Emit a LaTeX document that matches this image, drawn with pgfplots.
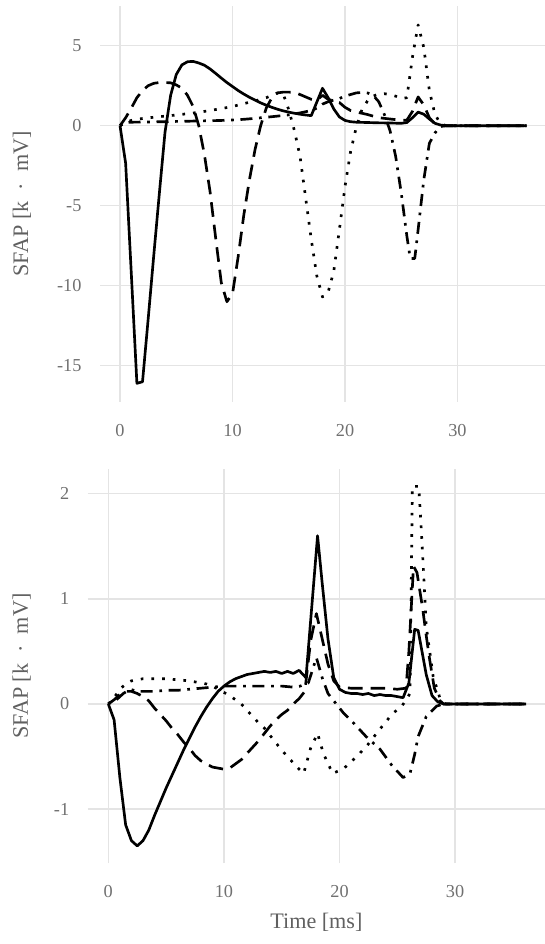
\documentclass[border=0pt]{standalone}
\usepackage{fontspec}
\setmainfont{Liberation Serif}
\usepackage{pgfplots}
\pgfplotsset{compat=1.18}

\definecolor{gridgray}{HTML}{E4E4E4}
\definecolor{tickgray}{HTML}{707070}
\definecolor{labgray}{HTML}{606060}

\pgfplotsset{
  sfap/.style={
    scale only axis,
    anchor=north west,
    axis line style={draw=none},
    major tick length=0pt,
    grid=major,
    grid style={gridgray, line width=1pt},
    xmin=-1.78, xmax=37.78,
    xtick={0,10,20,30},
    /pgf/number format/assume math mode=true,
    tick label style={font=\fontsize{13.7}{15}\selectfont, text=tickgray},
    xticklabel style={yshift=-13.4pt},
    yticklabel style={xshift=-10.4pt},
    label style={font=\fontsize{16.6}{19}\selectfont, text=labgray},
    ylabel={SFAP [k\hspace{0.5em}·\hspace{0.5em}mV]},
    every axis plot/.append style={black, line width=2pt, line join=round, mark=none},
  },
  s1/.style={solid},
  s2/.style={dash pattern=on 11pt off 6pt},
  s3/.style={dash pattern=on 2pt off 6pt},
  s4/.style={dash pattern=on 2pt off 5pt on 9pt off 5pt},
}

\begin{document}
\begin{tikzpicture}
\useasboundingbox (0,0) rectangle (408.75pt,708pt);

% top panel
\begin{axis}[sfap,
  at={(75pt,703.7pt)}, width=333.75pt, height=297pt,
  ymin=-17.25, ymax=7.5, ytick={-15,-10,-5,0,5},
  ylabel style={at={(axis description cs:-0.1753,0.5)}, anchor=center},
]
\addplot[s1] coordinates {(0,0) (0.5,-2.35) (1,-9.2) (1.5,-16.1) (2,-16.0) (2.5,-12.1) (3,-8.1) (3.5,-4.2) (4,-0.4) (4.5,1.9) (5,3.2) (5.5,3.8) (6,4.0) (6.5,4.02) (7,3.92) (7.5,3.78) (8,3.55) (8.5,3.27) (9,2.98) (9.5,2.7) (10,2.45) (10.5,2.2) (11,1.98) (11.5,1.78) (12,1.6) (12.5,1.43) (13,1.28) (13.5,1.15) (14,1.03) (14.5,0.93) (15,0.85) (15.5,0.78) (16,0.72) (16.5,0.67) (17,0.63) (18,2.34) (18.5,1.75) (19,1.05) (19.5,0.55) (20,0.33) (20.5,0.25) (21,0.22) (22,0.2) (23,0.18) (24,0.17) (25,0.15) (25.5,0.2) (26,0.5) (26.5,0.85) (27,0.72) (27.5,0.42) (28,0.15) (28.5,0.04) (29,0) (36.15,0)};
\addplot[s2] coordinates {(0,0) (0.5,0.5) (1,1.1) (1.5,1.75) (2,2.2) (2.5,2.5) (3,2.65) (3.5,2.7) (4,2.7) (4.5,2.68) (5,2.55) (5.5,2.35) (6,1.9) (6.5,1.2) (7,0.0) (7.5,-1.8) (8,-4.1) (8.5,-7.0) (9,-9.8) (9.5,-11.0) (10,-10.5) (10.5,-8.2) (11,-5.6) (11.5,-3.4) (12,-1.5) (12.5,0.0) (13,1.1) (13.5,1.75) (14,2.05) (14.5,2.1) (15,2.1) (15.5,2.08) (16,1.95) (16.5,1.8) (17,1.65) (17.5,1.6) (18,1.9) (18.5,1.65) (19,1.55) (19.5,1.45) (20,1.15) (20.5,0.95) (21,0.85) (21.5,0.78) (22,0.7) (22.5,0.6) (23,0.5) (23.5,0.46) (24,0.42) (24.5,0.38) (25,0.33) (25.5,0.35) (26,0.9) (26.5,1.8) (27,1.3) (27.5,0.5) (28,0.1) (28.5,0.01) (29,0) (36.15,0)};
\addplot[s3] coordinates {(0,0) (0.5,0.2) (1,0.33) (1.5,0.4) (2,0.45) (3,0.53) (4,0.6) (5,0.67) (6,0.75) (7,0.84) (8,0.95) (9,1.07) (10,1.2) (11,1.38) (12,1.55) (12.5,1.65) (13,1.75) (13.5,1.9) (14,2.05) (14.5,2.0) (15,1.0) (15.5,-0.3) (16,-1.9) (16.5,-4.5) (17,-7.1) (17.5,-9.4) (18,-10.7) (18.5,-10.4) (19,-9.1) (19.5,-6.5) (20,-3.8) (20.5,-1.6) (21,-0.1) (21.5,1.0) (22,1.55) (22.5,1.85) (23,1.98) (23.5,2.0) (24,1.95) (24.5,1.85) (25,1.7) (25.5,1.75) (26,4.3) (26.5,6.3) (27,4.9) (27.5,2.2) (28,0.7) (28.5,0.12) (29,0) (36.15,0)};
\addplot[s4] coordinates {(0,0) (0.5,0.2) (1,0.22) (2,0.23) (3,0.24) (4,0.25) (5,0.27) (6,0.28) (7,0.3) (8,0.31) (9,0.33) (10,0.36) (11,0.4) (12,0.46) (13,0.53) (14,0.6) (15,0.68) (16,0.8) (17,0.95) (17.5,1.1) (18,1.35) (18.5,1.5) (19,1.6) (19.5,1.7) (20,1.85) (20.5,1.95) (21,2.05) (21.5,2.08) (22,2.05) (22.5,1.9) (23,1.5) (23.5,0.7) (24,-0.3) (24.5,-1.9) (25,-4.2) (25.5,-6.9) (25.8,-8.3) (26.2,-8.3) (26.5,-6.5) (27,-3.4) (27.5,-1.1) (28,-0.45) (28.5,-0.05) (29,0) (36.15,0)};
\end{axis}

% bottom panel
\begin{axis}[sfap,
  at={(65.8pt,356.25pt)}, width=343pt, height=295.7pt,
  ymin=-1.515, ymax=2.235, ytick={-1,0,1,2},
  ylabel style={at={(axis description cs:-0.1444,0.5)}, anchor=center},
  xlabel={Time [ms]},
  xlabel style={at={(axis description cs:0.5,-0.1497)}, anchor=center},
]
\addplot[s1] coordinates {(0,0) (0.5,-0.15) (1,-0.7) (1.5,-1.15) (2,-1.3) (2.5,-1.35) (3,-1.3) (3.5,-1.2) (4,-1.06) (4.5,-0.93) (5,-0.8) (5.5,-0.68) (6,-0.56) (6.5,-0.44) (7,-0.33) (7.5,-0.22) (8,-0.12) (8.5,-0.03) (9,0.05) (9.5,0.12) (10,0.17) (10.5,0.21) (11,0.24) (11.5,0.26) (12,0.28) (12.5,0.29) (13,0.3) (13.5,0.31) (14,0.3) (14.5,0.31) (15,0.29) (15.5,0.31) (16,0.29) (16.5,0.32) (17.1,0.25) (18.1,1.6) (18.5,1.15) (19,0.62) (19.5,0.25) (20,0.14) (20.5,0.11) (21,0.1) (21.5,0.1) (22,0.09) (22.5,0.1) (23,0.08) (23.5,0.09) (24,0.08) (24.5,0.08) (25,0.07) (25.5,0.06) (26,0.2) (26.5,0.71) (26.8,0.7) (27.5,0.28) (28,0.08) (28.5,0.02) (29,0) (36.15,0)};
\addplot[s2] coordinates {(0,0) (0.5,0.04) (1,0.09) (1.5,0.12) (2,0.12) (2.5,0.1) (3,0.07) (3.5,0.03) (4,-0.04) (4.5,-0.1) (5,-0.16) (5.5,-0.23) (6,-0.29) (6.5,-0.36) (7,-0.42) (7.5,-0.49) (8,-0.54) (8.5,-0.57) (9,-0.6) (9.5,-0.61) (10,-0.62) (10.5,-0.61) (11,-0.57) (11.5,-0.53) (12,-0.47) (12.5,-0.41) (13,-0.35) (13.5,-0.28) (14,-0.21) (14.5,-0.15) (15,-0.1) (15.5,-0.06) (16,0.0) (16.5,0.05) (17,0.12) (17.5,0.6) (18,0.86) (18.5,0.62) (19,0.38) (19.5,0.22) (20,0.16) (21,0.15) (22,0.15) (23,0.15) (24,0.15) (25,0.14) (25.75,0.15) (26,0.5) (26.4,1.31) (26.7,1.25) (27.2,0.9) (27.5,0.65) (27.8,0.42) (28.2,0.15) (28.7,0.03) (29,0) (36.15,0)};
\addplot[s3] coordinates {(0,0) (0.5,0.06) (1,0.14) (1.5,0.19) (2,0.22) (2.5,0.23) (3,0.24) (4,0.24) (5,0.24) (6,0.23) (7,0.22) (8,0.2) (8.5,0.19) (9,0.17) (9.5,0.14) (10,0.11) (10.5,0.08) (11,0.04) (11.5,0.0) (12,-0.06) (12.5,-0.12) (13,-0.18) (13.5,-0.23) (14,-0.3) (14.5,-0.37) (15,-0.44) (15.5,-0.5) (16,-0.56) (16.5,-0.62) (16.9,-0.66) (17.5,-0.42) (18.1,-0.28) (18.6,-0.47) (19.4,-0.66) (20.3,-0.62) (21,-0.55) (21.75,-0.47) (22.5,-0.38) (23.2,-0.28) (24,-0.17) (24.6,-0.09) (25.4,-0.02) (26.1,0.1) (26.3,2.07) (26.85,2.07) (27,1.8) (27.2,1.4) (27.5,0.74) (28.1,0.26) (28.7,0.05) (29.2,0) (36.15,0)};
\addplot[s4] coordinates {(0,0) (0.7,0.04) (1.3,0.1) (1.9,0.14) (2.5,0.12) (3,0.12) (4,0.12) (5,0.13) (6,0.13) (7,0.14) (8,0.15) (9,0.16) (10,0.17) (11,0.17) (12,0.17) (13,0.17) (14,0.17) (15,0.17) (16,0.16) (16.6,0.17) (17.3,0.2) (18,0.44) (18.5,0.25) (19,0.1) (19.5,0.03) (20.3,-0.08) (21.2,-0.18) (22.3,-0.31) (23.5,-0.43) (24.5,-0.58) (25.5,-0.7) (26.1,-0.66) (26.5,-0.48) (26.8,-0.31) (27.5,-0.12) (28.4,-0.02) (29,0) (36.15,0)};
\end{axis}
\end{tikzpicture}
\end{document}
